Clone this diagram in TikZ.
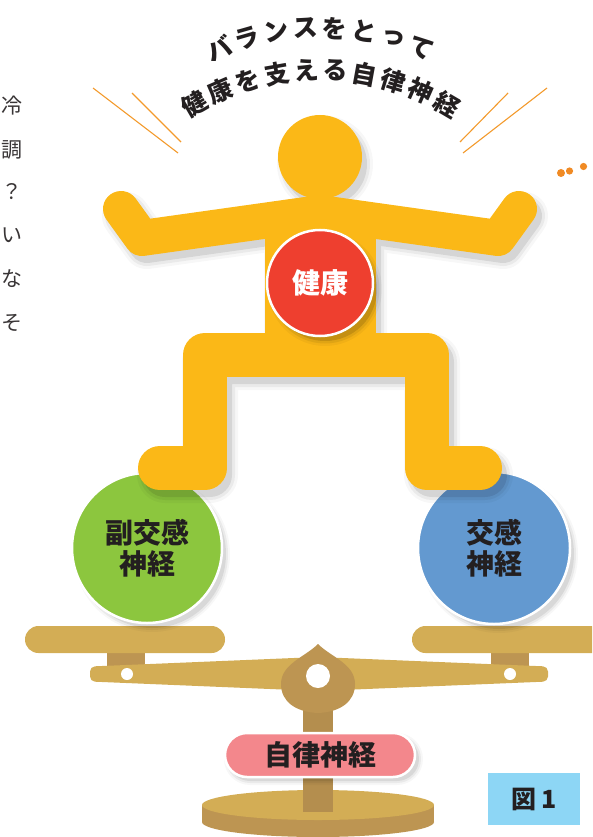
\documentclass[tikz,border=0pt]{standalone}
\usepackage{fontspec}
\newfontfamily\jp{Noto Sans CJK JP}
\definecolor{figyellow}{HTML}{FBB817}
\definecolor{healthred}{HTML}{EE3F2F}
\definecolor{paragreen}{HTML}{8CC63E}
\definecolor{symblue}{HTML}{6399D0}
\definecolor{scaletan}{HTML}{D3AD55}
\definecolor{scaledark}{HTML}{BD9552}
\definecolor{labelpink}{HTML}{F3878C}
\definecolor{tagblue}{HTML}{8DD6F5}
\definecolor{rayorange}{HTML}{F39A2C}
\definecolor{dotorange}{HTML}{F08A24}
\definecolor{ink}{HTML}{231F20}
\tikzset{
  ray/.style={rayorange, line width=1.1pt},
  sidetext/.style={font=\jp\fontsize{21}{21}\selectfont, text=ink!90, inner sep=0pt},
  arctext/.style={font=\jp\bfseries\fontsize{25}{25}\selectfont, text=ink, inner sep=0pt},
  ball/.style={circle, draw=white, line width=2.5pt, inner sep=0pt, align=center,
    font=\jp\bfseries\fontsize{28}{31}\selectfont, text=ink},
  pill/.style={rounded corners=22pt, fill=labelpink, draw=white, line width=2.5pt,
    minimum width=190pt, minimum height=44pt, inner sep=0pt,
    font=\jp\bfseries\fontsize{28}{28}\selectfont, text=ink},
  tag/.style={fill=tagblue, minimum width=92pt, minimum height=52pt, inner sep=0pt,
    font=\jp\bfseries\fontsize{25}{25}\selectfont, text=ink},
}
% the standing figure; #1 widens every part, #2 is its colour
\newcommand\figshape[2]{%
  \fill[#2] (320,157) circle ({42+#1/2});
  \draw[#2, line width={36+#1}, line cap=round, line join=round]
    (121,209) -- (142,238) -- (320,213) -- (498,238) -- (519,209);
  \fill[#2] ({265-#1/2},205) rectangle ({376+#1/2},360);
  \draw[#2, line width={44+#1}, line cap=round, line join=round]
    (160,468) -- (205,468) -- (205,355) -- (427,355) -- (427,468) -- (480,468);
}
\begin{document}
\begin{tikzpicture}[x=1pt,y=-1pt]
\useasboundingbox (0,0) rectangle (592,837);
\clip (0,0) rectangle (592,837);

% column of text cut by the left edge
\foreach \ch/\yy [count=\k] in {冷/106,調/150,？/192,い/235,な/279,そ/323}
  \node[sidetext] (side\k) at (12,\yy) {\ch};

% curved heading
\foreach \ch [count=\i from 0] in {バ,ラ,ン,ス,を,と,っ,て} {
  \pgfmathsetmacro\th{-22.4+\i*6.4}
  \node[arctext, rotate=-\th] (ha\i) at ({320+265*sin(\th)},{293-265*cos(\th)}) {\ch};
}
\foreach \ch [count=\i from 0] in {健,康,を,支,え,る,自,律,神,経} {
  \pgfmathsetmacro\th{-30.2+\i*6.75}
  \node[arctext, rotate=-\th] (hb\i) at ({320+250*sin(\th)},{320-250*cos(\th)}) {\ch};
}

% emphasis strokes and dots
\draw[ray] (93,88) -- (178,153);
\draw[ray] (132,93) -- (181,142);
\draw[ray] (508,93) -- (460,142);
\draw[ray] (547,88) -- (463,153);
\fill[dotorange] (561,173) circle (4);
\fill[dotorange] (569.5,171) circle (3.6);
\fill[dotorange] (583.5,166.5) circle (3.6);

% balance: base
\fill[scaledark] (318,822) ellipse [x radius=116, y radius=15];
\fill[scaledark] (202,805) rectangle (434,822);
\fill[scaletan] (318,805) ellipse [x radius=116, y radius=15];
\fill[scaledark!95!black] (303,700) rectangle (333,812);

% pans and their posts
\fill[scaledark] (107,648) rectangle (145,668);
\fill[scaledark] (491,648) rectangle (529,668);
\fill[scaletan, rounded corners=13.5pt] (25,626) rectangle (225,653);
\fill[scaletan, rounded corners=13.5pt] (412,626) rectangle (620,653);

% beam
\fill[scaletan, rounded corners=5pt] (90,666.5) -- (318,657) -- (548,666.5)
  -- (548,681.5) -- (318,691) -- (90,681.5) -- cycle;
\fill[white] (127,674) circle (6);
\fill[white] (510,674) circle (6);

% pivot
\fill[scaledark] (318,644) .. controls (305,657) and (281,664) .. (281,684)
  .. controls (281,702) and (296,712) .. (318,713)
  .. controls (340,712) and (355,702) .. (355,684)
  .. controls (355,664) and (331,657) .. (318,644) -- cycle;
\fill[white] (318,676) circle (12);

% label on the stem
\foreach \w/\o in {0/0.08,4/0.05,8/0.03}
  \fill[black, opacity=\o, rounded corners={22+\w/2}]
    ({228-\w/2},{737-\w/2}) rectangle ({419+\w/2},{781+\w/2});
\node[pill] (ans) at (320,755) {自律神経};

% side balls
\foreach \w/\o in {0/0.08,4/0.05,8/0.03} {
  \fill[black, opacity=\o] (152,554) circle ({74+\w/2});
  \fill[black, opacity=\o] (499,554) circle ({75+\w/2});
}
\node[ball, fill=paragreen, minimum size=150pt] (para) at (147,548) {副交感\\神経};
\node[ball, fill=symblue, minimum size=152pt] (sym) at (494,548) {交感\\神経};

% figure with its shadow
\foreach \w/\o in {0/0.09,6/0.05,12/0.03} {
  \begin{scope}[transparency group, opacity=\o, shift={(5,7)}]
    \figshape{\w}{black}
  \end{scope}
}
\figshape{0}{figyellow}

% health ball
\foreach \w/\o in {0/0.12,5/0.07,10/0.04}
  \fill[black, opacity=\o] (325,289) circle ({52+\w/2});
\node[ball, fill=healthred, minimum size=106pt, text=white] (health) at (320,283) {健康};

% figure number
\node[tag] (fig) at (534,799) {図 1};
\end{tikzpicture}
\end{document}
